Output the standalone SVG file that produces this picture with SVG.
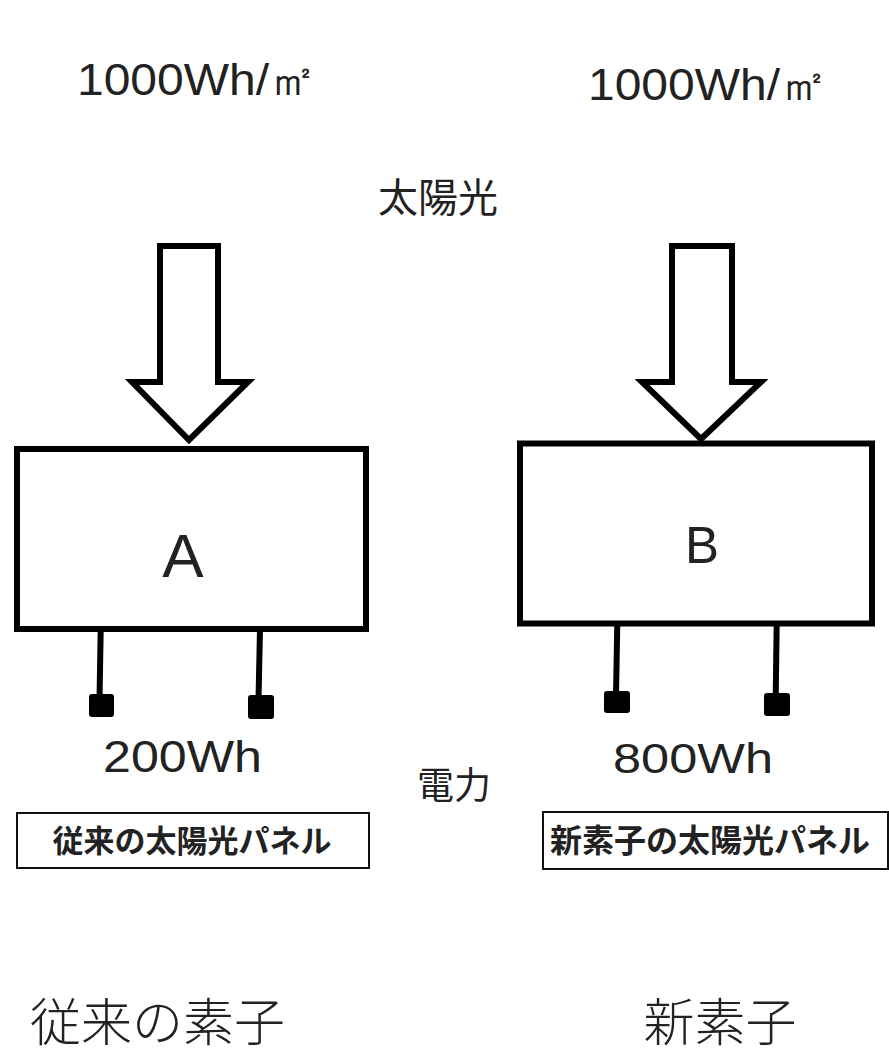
<svg xmlns="http://www.w3.org/2000/svg" width="889" height="1056" viewBox="0 0 889 1056">
<style>
.lat{font-family:"Liberation Sans",Arial,sans-serif;fill:#222}
.jp{font-family:"Noto Sans CJK JP","Noto Sans",sans-serif;fill:#222}
.arrow{fill:#fff;stroke:#000;stroke-width:6;stroke-linejoin:miter}
.box{fill:#fff;stroke:#000;stroke-width:6}
.lbl{fill:#fff;stroke:#111;stroke-width:2}
.wire{stroke:#000;stroke-width:6;fill:none}
.term{fill:#000}
</style>
<rect width="889" height="1056" fill="#fff"/>
<g id="top-labels">
<text class="lat" x="77" y="95" font-size="44" textLength="240" lengthAdjust="spacingAndGlyphs">1000Wh/㎡</text>
<text class="lat" x="588" y="100" font-size="44" textLength="240" lengthAdjust="spacingAndGlyphs">1000Wh/㎡</text>
<text class="jp" x="438" y="212" font-size="40" text-anchor="middle">太陽光</text>
<text class="jp" x="454" y="799" font-size="37" text-anchor="middle">電力</text>
</g>
<g id="arrows">
<polygon class="arrow" points="160,246 218,246 218,382 248,382 189,440 132,382 160,382"/>
<polygon class="arrow" points="672,246 732,246 732,382 761,382 701,439 642,382 672,382"/>
</g>
<g id="nodeA">
<rect class="box" x="17" y="449" width="349" height="180"/>
<text class="lat" x="183" y="577" font-size="62" text-anchor="middle">A</text>
</g>
<g id="nodeB">
<rect class="box" x="520" y="443.5" width="352" height="180"/>
<text class="lat" x="702" y="563" font-size="51" text-anchor="middle">B</text>
</g>
<g id="connectors">
<line class="wire" x1="100.7" y1="629" x2="99.5" y2="700"/>
<line class="wire" x1="260" y1="629" x2="258.5" y2="700"/>
<line class="wire" x1="617.3" y1="623" x2="616" y2="695"/>
<line class="wire" x1="776.7" y1="623" x2="775.7" y2="697"/>
<rect class="term" x="89" y="694" width="25" height="23" rx="3"/>
<rect class="term" x="248" y="695" width="26" height="24" rx="3"/>
<rect class="term" x="604" y="691" width="26" height="22" rx="3"/>
<rect class="term" x="764" y="693" width="26" height="23" rx="3"/>
</g>
<g id="outputs">
<text class="lat" x="103" y="772" font-size="44" textLength="159" lengthAdjust="spacingAndGlyphs">200Wh</text>
<text class="lat" x="613" y="773" font-size="42" textLength="160" lengthAdjust="spacingAndGlyphs">800Wh</text>
</g>
<g id="labelA">
<rect class="lbl" x="17" y="813" width="352" height="55"/>
<text class="jp" x="192" y="852" font-size="31" font-weight="bold" text-anchor="middle" fill="#111">従来の太陽光パネル</text>
</g>
<g id="labelB">
<rect class="lbl" x="543" y="812" width="345" height="57"/>
<text class="jp" x="710" y="852" font-size="32" font-weight="bold" text-anchor="middle" fill="#111">新素子の太陽光パネル</text>
</g>
<g id="captions">
<text class="jp" x="30" y="1041" font-size="51" font-weight="300">従来の素子</text>
<text class="jp" x="720" y="1041" font-size="51" font-weight="300" text-anchor="middle">新素子</text>
</g>
</svg>
